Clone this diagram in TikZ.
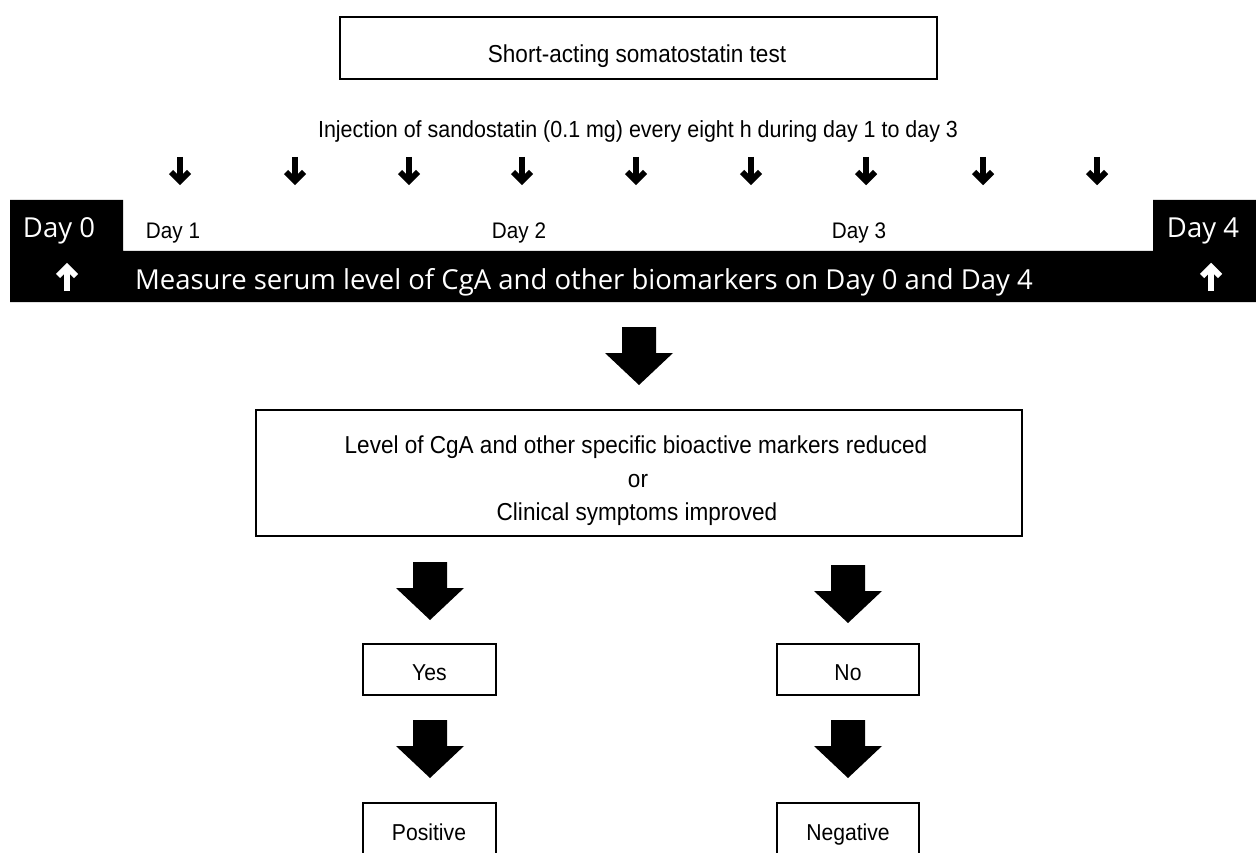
\documentclass[tikz,border=0pt]{standalone}
\usepackage{fontspec}
\newfontfamily\helv[FakeStretch=0.92]{Liberation Sans}
\newfontfamily\segoe{Open Sans}
\begin{document}
\begin{tikzpicture}[x=1pt,y=-1pt,
  box/.style={draw, line width=1.3pt, inner sep=0pt},
  txt/.style={anchor=base, inner sep=0pt, font=\helv\fontsize{24.5}{28}\selectfont},
  daytxt/.style={anchor=base, inner sep=0pt, font=\helv\fontsize{22.5}{26}\selectfont},
  smalltxt/.style={anchor=base, inner sep=0pt, font=\helv\fontsize{23}{26}\selectfont},
  whitetext/.style={anchor=base, font=\segoe\fontsize{27.5}{32}\selectfont, text=white, inner sep=0pt},
  bigarrow/.pic={\fill (-17,0) -- (17,0) -- (17,26) -- (34,26) -- (0,58) -- (-34,26) -- (-17,26) -- cycle;},
  smallarrow/.pic={\draw[line width=6pt] (0,0) -- (0,24);
    \draw[line width=6pt, miter limit=10] (-9,15) -- (0,24) -- (9,15);},
]
\useasboundingbox (0,0) rectangle (1256,853);
\clip (0,0) rectangle (1256,853);
\fill[white] (0,0) rectangle (1256,853);

% top box
\node[box, minimum width=597pt, minimum height=62pt] (test) at (638.5,48) {};
\node[txt] (testtxt) at (637,63) {Short-acting somatostatin test};
\node[txt, font=\helv\fontsize{23.3}{28}\selectfont] (inj) at (638,138) {Injection of sandostatin (0.1 mg) every eight h during day 1 to day 3};

% small injection arrows
\foreach \xx in {180,295,409,522,636,751,866,983,1097}
  \pic at (\xx,157) {smallarrow};

% black band
\fill (10,200) -- (123,200) -- (123,251) -- (1153,251) -- (1153,200) -- (1256,200) -- (1256,302) -- (10,302) -- cycle;
\node[whitetext] (d0) at (59,238) {Day 0};
\node[whitetext] (d4) at (1203,238) {Day 4};
\node[whitetext] (measure) at (584,289) {Measure serum level of CgA and other biomarkers on Day 0 and Day 4};
\node[daytxt] (d1) at (173,239) {Day 1};
\node[daytxt] (d2) at (519,239) {Day 2};
\node[daytxt] (d3) at (859,239) {Day 3};
\begin{scope}[white]
  \pic[rotate=180] at (67,291) {smallarrow};
  \pic[rotate=180] at (1211,291) {smallarrow};
\end{scope}

% big arrow to result box
\pic at (639,327) {bigarrow};

% result box
\node[box, minimum width=766pt, minimum height=126pt] (res) at (639,473) {};
\node[txt] (r1) at (636,453) {Level of CgA and other specific bioactive markers reduced};
\node[txt] (r2) at (638,487) {or};
\node[txt] (r3) at (637,520) {Clinical symptoms improved};

% branches
\pic at (430,562) {bigarrow};
\pic at (848,565) {bigarrow};
\node[box, minimum width=133pt, minimum height=51pt] (yes) at (429.5,669.5) {};
\node[smalltxt] (yestxt) at (429.5,680) {Yes};
\node[box, minimum width=142pt, minimum height=51pt] (no) at (848,669.5) {};
\node[smalltxt] (notxt) at (848,680) {No};
\pic at (430,720) {bigarrow};
\pic at (848,720) {bigarrow};
\draw[line width=1.3pt] (363,803) rectangle (496,880);
\draw[line width=1.3pt] (777,803) rectangle (919,880);
\node[smalltxt] (pos) at (429,840) {Positive};
\node[smalltxt] (neg) at (848,840) {Negative};
\end{tikzpicture}
\end{document}
